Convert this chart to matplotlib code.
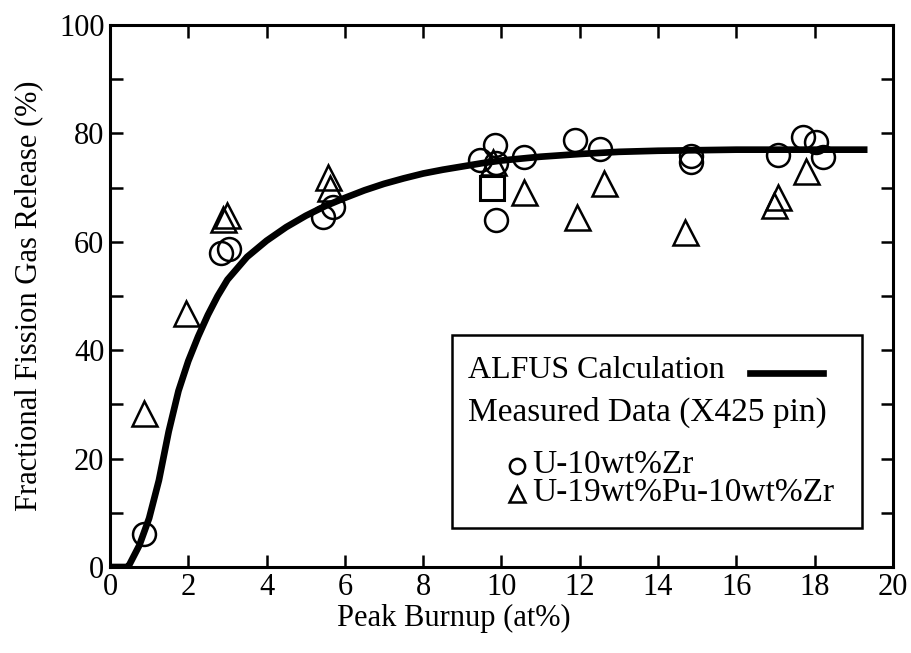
import matplotlib
matplotlib.use('Agg')
import matplotlib.pyplot as plt
from matplotlib.patches import Rectangle
from matplotlib.lines import Line2D

plt.rcParams['font.family'] = ['Liberation Serif', 'DejaVu Serif']

# ALFUS calculation curve
calc_burnup = [0.0, 0.45, 0.5, 0.75, 1.0, 1.25, 1.5, 1.75, 2.0, 2.25, 2.5, 2.75,
               3.0, 3.5, 4.0, 4.5, 5.0, 5.5, 6.0, 6.5, 7.0, 7.5, 8.0, 8.5, 9.0,
               9.5, 10.0, 11.0, 12.0, 13.0, 14.0, 15.0, 16.0, 17.0, 18.0, 19.35]
calc_fgr = [0.0, 0.0, 0.5, 4.0, 9.0, 16.0, 25.0, 32.5, 38.0, 42.5, 46.5, 50.0,
            53.0, 57.2, 60.2, 62.7, 64.8, 66.6, 68.1, 69.5, 70.7, 71.7, 72.6, 73.3,
            73.9, 74.5, 75.0, 75.7, 76.2, 76.6, 76.8, 76.9, 77.0, 77.0, 77.0, 77.0]

# U-10wt%Zr measured
uzr_burnup = [0.87, 2.83, 3.05, 5.43, 5.70, 9.45, 9.83, 9.86, 9.86, 10.57, 11.89,
              12.52, 14.83, 14.83, 17.07, 17.71, 18.03, 18.22]
uzr_fgr = [6.1, 57.9, 58.6, 64.6, 66.5, 75.1, 77.9, 74.5, 64.0, 75.6, 78.7,
           77.2, 75.8, 74.8, 76.0, 79.3, 78.5, 75.6]

# U-19wt%Pu-10wt%Zr measured
upuzr_burnup = [0.87, 1.94, 2.88, 2.98, 5.58, 5.62, 9.79, 10.57, 11.92, 12.62,
                14.70, 16.96, 17.07, 17.78]
upuzr_fgr = [28.4, 46.8, 64.3, 65.0, 72.0, 69.9, 74.8, 69.2, 64.6, 70.9,
             61.9, 66.8, 68.3, 73.1]

# single square point
sq_burnup = [9.77]
sq_fgr = [69.9]

fig = plt.figure(figsize=(9.12, 6.53), dpi=100)
ax = fig.add_axes([0.1206, 0.1317, 0.8585, 0.8300])

ax.plot(calc_burnup, calc_fgr, color='black', linewidth=4.8, solid_capstyle='butt', zorder=3)
ax.plot(uzr_burnup, uzr_fgr, 'o', ms=16.5, mfc='none', mec='black', mew=1.8, zorder=4)
ax.plot(upuzr_burnup, upuzr_fgr, '^', ms=18, mfc='none', mec='black', mew=1.8, zorder=4)
ax.plot(sq_burnup, sq_fgr, 's', ms=17, mfc='none', mec='black', mew=2.2, zorder=4)

ax.set_xlim(0, 20)
ax.set_ylim(0, 100)
ax.set_xticks(range(0, 21, 2))
ax.set_yticks(range(0, 101, 20))
ax.set_yticks(range(10, 100, 20), minor=True)
ax.tick_params(which='both', direction='in', top=True, right=True,
               length=9, width=1.8, labelsize=22, pad=4)

for s in ax.spines.values():
    s.set_linewidth(2.2)

ax.set_xlabel('Peak Burnup (at%)', fontsize=22)
ax.xaxis.set_label_coords(0.439, -0.068)
ax.set_ylabel('Fractional Fission Gas Release (%)', fontsize=22, labelpad=11)

# legend drawn by hand, in axes coordinates
ax.add_patch(Rectangle((0.437, 0.072), 0.524, 0.356, transform=ax.transAxes,
                       fill=False, edgecolor='black', linewidth=1.8, zorder=5))
ax.text(0.457, 0.363, 'ALFUS Calculation', transform=ax.transAxes,
        fontsize=23, va='center', ha='left', zorder=6)
ax.add_line(Line2D([0.817, 0.911], [0.358, 0.358], transform=ax.transAxes,
                   color='black', linewidth=4.8, zorder=6))
ax.text(0.457, 0.286, 'Measured Data (X425 pin)', transform=ax.transAxes,
        fontsize=24, va='center', ha='left', zorder=6)
ax.add_line(Line2D([0.52], [0.186], transform=ax.transAxes, marker='o', ms=11,
                   mfc='none', mec='black', mew=1.8, zorder=6))
ax.text(0.539, 0.188, 'U-10wt%Zr', transform=ax.transAxes,
        fontsize=24, va='center', ha='left', zorder=6)
ax.add_line(Line2D([0.52], [0.134], transform=ax.transAxes, marker='^', ms=12,
                   mfc='none', mec='black', mew=1.8, zorder=6))
ax.text(0.539, 0.137, 'U-19wt%Pu-10wt%Zr', transform=ax.transAxes,
        fontsize=24, va='center', ha='left', zorder=6)

fig.savefig('out.png', dpi=100)
